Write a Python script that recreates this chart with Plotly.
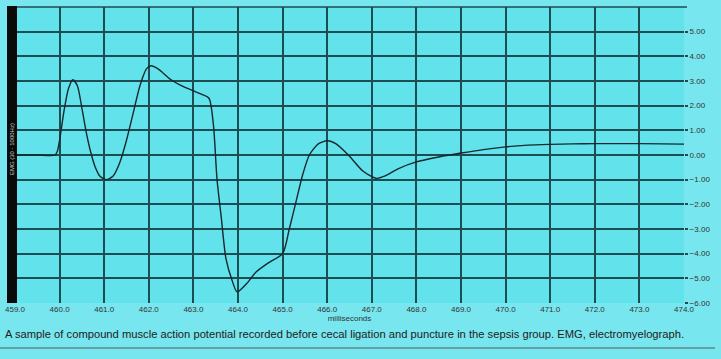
import plotly.graph_objects as go

# Time (ms) and amplitude values
time_ms = [459.0, 459.5, 459.9, 459.95, 460.0, 460.1, 460.2, 460.3, 460.4, 460.5,
           460.6, 460.7, 460.8, 460.9, 461.05, 461.2, 461.35, 461.5, 461.65, 461.8,
           461.95, 462.05, 462.2, 462.5, 462.8, 463.0, 463.2, 463.35, 463.45, 463.53,
           463.62, 463.73, 463.87, 463.98, 464.2, 464.4, 464.7, 465.0, 465.15, 465.3,
           465.45, 465.6, 465.8, 466.0, 466.2, 466.5, 466.8, 467.1, 467.3, 467.6,
           468.0, 468.5, 469.0, 469.5, 470.0, 470.5, 471.0, 471.5, 472.0, 473.0, 474.0]
emg_mv = [0.0, 0.0, 0.0, 0.15, 0.6, 1.8, 2.7, 3.05, 2.8, 1.9,
          0.9, 0.1, -0.5, -0.85, -1.0, -0.85, -0.3, 0.6, 1.7, 2.8,
          3.5, 3.62, 3.5, 3.05, 2.75, 2.6, 2.45, 2.3, 1.2, -1.0,
          -2.45, -4.2, -5.1, -5.55, -5.2, -4.75, -4.35, -4.0, -3.0, -1.9,
          -0.8, 0.0, 0.45, 0.58, 0.45, -0.05, -0.65, -0.95, -0.85, -0.55,
          -0.28, -0.08, 0.08, 0.22, 0.33, 0.4, 0.43, 0.45, 0.46, 0.46, 0.44]

x_ticks = [459.0 + i for i in range(16)]
y_ticks = [-6, -5, -4, -3, -2, -1, 0, 1, 2, 3, 4, 5]
caption = ("A sample of compound muscle action potential recorded before cecal ligation "
           "and puncture in the sepsis group. EMG, electromyelograph.")
channel_label = "EMG (30 - 1000Hz)"

W, H = 721, 359
ML, MR, MT, MB = 15, 37, 7, 56
pw = W - ML - MR
ph = H - MT - MB

grid_col = "#1d4c52"
fig = go.Figure()
fig.add_trace(go.Scatter(
    x=time_ms, y=emg_mv, mode="lines",
    line=dict(color="#17282e", width=1.4, shape="spline", smoothing=0.7),
    hoverinfo="skip", showlegend=False))

fig.update_layout(
    width=W, height=H,
    margin=dict(l=ML, r=MR, t=MT, b=MB, pad=0, autoexpand=False),
    paper_bgcolor="#78e6ee",
    plot_bgcolor="#62e2eb",
    font=dict(family="Liberation Sans, Arial, sans-serif", color="#2a2a2a"),
    xaxis=dict(
        range=[459, 474], tickvals=x_ticks, tickformat=".1f", automargin=False,
        showgrid=True, gridcolor=grid_col, gridwidth=1.5,
        zeroline=False, showline=False, ticks="",
        tickfont=dict(size=8, color="#333333"),
        title=dict(text="milliseconds", font=dict(size=8, color="#333333"), standoff=0),
    ),
    yaxis=dict(
        range=[-6, 6], tickvals=y_ticks, tickformat=".2f", side="right", automargin=False,
        showgrid=True, gridcolor=grid_col, gridwidth=1.5,
        zeroline=False, showline=False,
        ticks="outside", ticklen=3, tickcolor=grid_col, tickwidth=1.5,
        tickfont=dict(size=8, color="#333333"),
    ),
    shapes=[
        # top border line
        dict(type="line", xref="paper", yref="paper", x0=0, x1=(pw + 3) / pw, y0=1, y1=1,
             line=dict(color=grid_col, width=1.5)),
        # black channel bar on the left
        dict(type="rect", xref="paper", yref="paper", x0=-8 / pw, x1=2 / pw,
             y0=0, y1=1.003, fillcolor="#0a0a0a", line=dict(width=0)),
        # rule under the caption
        dict(type="line", xref="paper", yref="paper", x0=-ML / pw, x1=(715 - ML) / pw,
             y0=-(348 - MT - ph) / ph, y1=-(348 - MT - ph) / ph,
             line=dict(color="#4a5a5e", width=1)),
    ],
    annotations=[
        dict(text=channel_label, xref="paper", yref="paper", x=-3 / pw, y=0.52,
             textangle=-90, showarrow=False, font=dict(size=6, color="#c8c8c8"),
             xanchor="center", yanchor="middle"),
        dict(text=caption, xref="paper", yref="paper", x=-(ML - 3) / pw,
             y=-(334 - MT - ph) / ph, xanchor="left", yanchor="middle",
             showarrow=False, font=dict(size=11.2, color="#222222")),
    ],
)

fig.write_html(
    "out.html",
    config={"displayModeBar": False},
    post_script="document.body.style.margin='0';document.body.style.padding='0';"
                "document.documentElement.style.background='#78e6ee';",
)
